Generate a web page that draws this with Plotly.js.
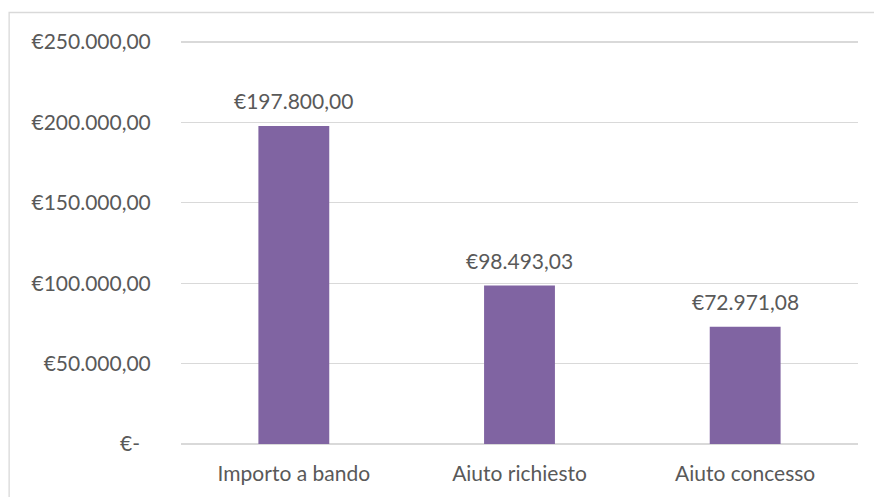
<!DOCTYPE html>
<html>
<head>
<meta charset="utf-8">
<script src="https://cdn.plot.ly/plotly-3.0.1.min.js"></script>
<style>
html,body{margin:0;padding:0;background:#fff;}
#chart{width:874px;height:497px;}
</style>
</head>
<body>
<div id="chart"></div>
<script>
const categories = ["Importo a bando", "Aiuto richiesto", "Aiuto concesso"];
const values = [197800.00, 98493.03, 72971.08];
const tickValues = [0, 50000, 100000, 150000, 200000, 250000];
const tickLabels = ["€-\u00a0\u00a0", "€50.000,00", "€100.000,00", "€150.000,00", "€200.000,00", "€250.000,00"];

function fmtEuro(v) {
  const parts = v.toFixed(2).split(".");
  const intPart = parts[0].replace(/\B(?=(\d{3})+(?!\d))/g, ".");
  return "€" + intPart + "," + parts[1];
}

const textColor = "#595959";
const fontFamily = "Lato, 'Open Sans', sans-serif";

const trace = {
  type: "bar",
  x: categories,
  y: values,
  marker: {color: "#8064A2"},
  hoverinfo: "none"
};

const annotations = categories.map((c, i) => ({
  x: c,
  y: values[i],
  xref: "x",
  yref: "y",
  text: fmtEuro(values[i]),
  showarrow: false,
  yanchor: "middle",
  yshift: 25,
  font: {family: fontFamily, size: 21, color: textColor}
}));

const layout = {
  width: 874,
  height: 497,
  autosize: false,
  margin: {l: 181, r: 15.5, t: 38, b: 49, pad: 0},
  paper_bgcolor: "#ffffff",
  plot_bgcolor: "#ffffff",
  bargap: 0.686,
  showlegend: false,
  font: {family: fontFamily, size: 21, color: textColor},
  xaxis: {
    type: "category",
    showgrid: false,
    zeroline: false,
    showline: false,
    ticks: "outside",
    ticklen: 7,
    tickcolor: "rgba(0,0,0,0)",
    tickfont: {family: fontFamily, size: 21, color: textColor},
    fixedrange: true
  },
  yaxis: {
    range: [-2500, 252500],
    tickmode: "array",
    tickvals: tickValues,
    ticktext: tickLabels,
    showgrid: true,
    gridcolor: "#D9D9D9",
    gridwidth: 1.3,
    zeroline: true,
    zerolinecolor: "#D9D9D9",
    zerolinewidth: 1.3,
    showline: false,
    ticks: "outside",
    ticklen: 25,
    tickcolor: "rgba(0,0,0,0)",
    tickfont: {family: fontFamily, size: 21, color: textColor},
    fixedrange: true
  },
  annotations: annotations,
  shapes: [{
    type: "rect",
    xref: "paper",
    yref: "paper",
    x0: (9 - 181) / 677.5,
    x1: (880 - 181) / 677.5,
    y0: (448 - 505) / 410,
    y1: (448 - 12.5) / 410,
    line: {color: "#D9D9D9", width: 1.3},
    fillcolor: "rgba(0,0,0,0)",
    layer: "below"
  }]
};

Plotly.newPlot("chart", [trace], layout, {displayModeBar: false, staticPlot: true});
</script>
</body>
</html>
